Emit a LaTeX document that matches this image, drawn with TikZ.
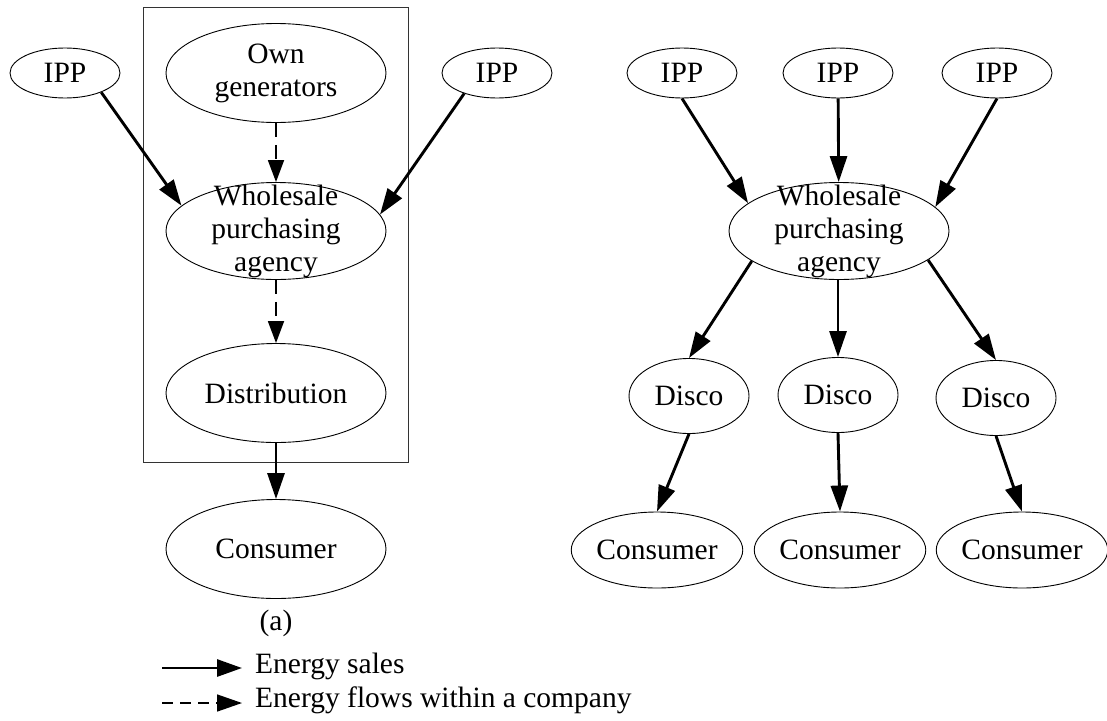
\documentclass[tikz,border=0pt]{standalone}
\usepackage{fontspec}
\setmainfont{Liberation Serif}
\usepackage{tikz}
\usetikzlibrary{shapes.geometric, arrows.meta, backgrounds, fit}
\tikzstyle{flecha} = [line width=2.9pt, -{Triangle[length=26pt,width=17pt]}]
\tikzstyle{flechainterna} = [line width=1.8pt,
                             dash pattern=on 14pt off 8pt,
                             -{Triangle[length=22pt,width=16pt]}]
\tikzstyle{ipp} = [ellipse,
                   draw=black,
                   line width=0.9pt,
                   inner sep=0pt,
                   minimum width=110pt,
                   minimum height=50pt,
                   align=center]
\tikzstyle{grande} = [ellipse,
                      draw=black,
                      line width=0.9pt,
                      inner sep=0pt,
                      minimum width=220pt,
                      minimum height=99pt,
                      align=center]
\tikzstyle{agencia} = [grande,
                       inner sep=-22pt,
                       minimum height=97pt]
\tikzstyle{disco} = [ellipse,
                     draw=black,
                     line width=0.9pt,
                     inner sep=0pt,
                     minimum width=120pt,
                     minimum height=75pt]
\tikzstyle{consumidor} = [ellipse,
                          draw=black,
                          line width=0.9pt,
                          inner sep=0pt,
                          minimum width=170pt,
                          minimum height=76pt]
\tikzstyle{contenedor} = [rectangle,
                          draw=black!80,
                          line width=1pt,
                          inner xsep=22.5pt,
                          inner ysep=18pt]
\tikzstyle{leyenda} = [anchor=base west, inner sep=0pt]

\begin{document}
\begin{tikzpicture}[x=1pt, y=-1pt, node distance=158pt, font=\fontsize{29.5}{33}\selectfont]
        \useasboundingbox (0,0) rectangle (1107,720);

        % (a)
        \node (WPAa) [agencia] at (276,231) {Wholesale\\purchasing\\agency};
        \node (OwnGen) [grande, above of=WPAa] {Own\\generators};
        \node (Dist) [grande, below of=WPAa, yshift=-4pt] {Distribution};
        \node (Consa) [grande, below of=Dist, yshift=2pt] {Consumer};
        \node (IPPa1) [ipp, left of=OwnGen, xshift=-53pt] {IPP};
        \node (IPPa2) [ipp, right of=OwnGen, xshift=63pt] {IPP};
        \node (Etiqueta) [below of=Consa, yshift=84pt] {(a)};

        \begin{scope}[on background layer]
            \node (Empresa) [contenedor, fit=(OwnGen)(Dist), yshift=-2pt] {};
        \end{scope}

        % (b)
        \node (WPAb) [agencia] at (839,231) {Wholesale\\purchasing\\agency};
        \node (IPPb2) [ipp, above of=WPAb, xshift=-1pt] {IPP};
        \node (IPPb1) [ipp, left of=IPPb2, xshift=2pt] {IPP};
        \node (IPPb3) [ipp, right of=IPPb2, xshift=1pt] {IPP};
        \node (Disco2) [disco, below of=WPAb, xshift=-1pt, yshift=-6pt] {Disco};
        \node (Disco1) [disco, left of=Disco2, xshift=9pt, yshift=-1pt] {Disco};
        \node (Disco3) [disco, right of=Disco2, yshift=-3pt] {Disco};
        \node (Consb2) [consumidor, below of=Disco2, xshift=2pt, yshift=3pt] {Consumer};
        \node (Consb1) [consumidor, left of=Consb2, xshift=-25pt] {Consumer};
        \node (Consb3) [consumidor, right of=Consb2, xshift=24pt] {Consumer};

        % leyenda
        \coordinate (ventaIni) at (162,668);
        \coordinate (ventaFin) at (242,668);
        \coordinate (flujoIni) at (162,703);
        \coordinate (flujoFin) at (242,703);
        \node (TxtVenta) [leyenda] at (255,673) {Energy sales};
        \node (TxtFlujo) [leyenda] at (255,707) {Energy flows within a company};

        \draw [flecha] (IPPa1.-28) -- (WPAa.165);
        \draw [flecha] (IPPa2.212) -- (WPAa.9);
        \draw [flechainterna] (OwnGen) -- (WPAa);
        \draw [flechainterna] (WPAa) -- (Dist);
        \draw [flecha] (Dist) -- (Consa);

        \draw [flecha] (IPPb1.south) -- (WPAb.163);
        \draw [flecha] (IPPb2) -- (WPAb);
        \draw [flecha] (IPPb3.south) -- (WPAb.14);
        \draw [flecha] (WPAb.199) -- (Disco1.north);
        \draw [flecha] (WPAb.south -| Disco2) -- (Disco2);
        \draw [flecha] (WPAb.342) -- (Disco3.north);
        \draw [flecha] (Disco1.south) -- (Consb1.north);
        \draw [flecha] (Disco2.south) -- (Consb2.north);
        \draw [flecha] (Disco3.south) -- (Consb3.north);

        \draw [line width=2.9pt, -{Triangle[length=25pt,width=17pt]}] (ventaIni) -- (ventaFin);
        \draw [line width=1.5pt, dash pattern=on 11pt off 7pt,
               -{Triangle[length=25pt,width=17pt]}] (flujoIni) -- (flujoFin);
    \end{tikzpicture}
\end{document}
